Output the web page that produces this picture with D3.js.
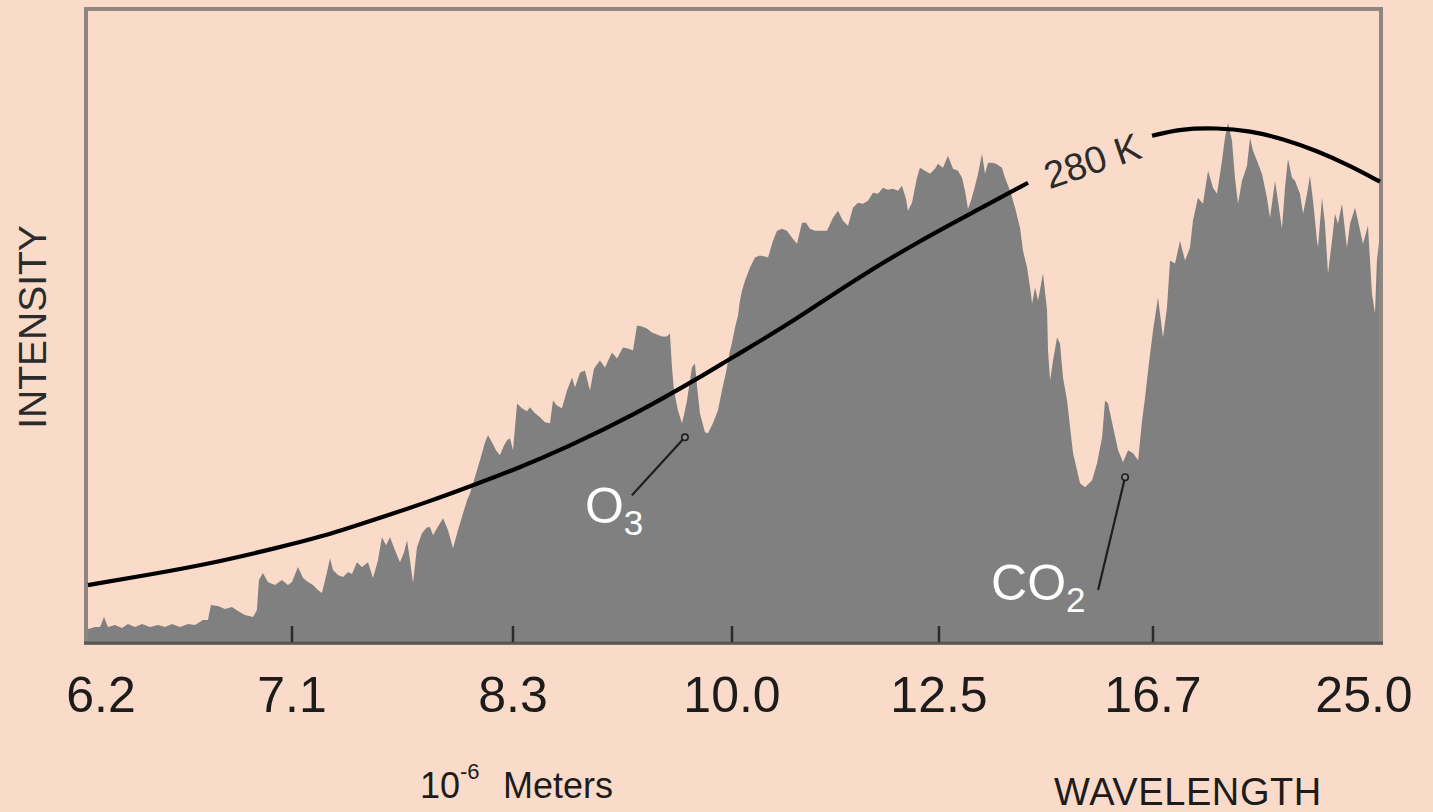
<!DOCTYPE html>
<html>
<head>
<meta charset="utf-8">
<script src="https://cdn.jsdelivr.net/npm/d3@7"></script>
<style>
  html, body { margin: 0; padding: 0; background: #FADBC9; }
  svg { display: block; }
  text { font-family: "Liberation Sans", Arial, Helvetica, sans-serif; }
</style>
</head>
<body>
<svg id="chart" width="1433" height="812"></svg>
<script>
// Earth's outgoing infrared spectrum against a 280 K blackbody curve.
// x: wavenumber in cm^-1 (axis labelled in wavelength, 10^-6 m); y: intensity, arbitrary units.

const wavenumberTicks = [1600, 1400, 1200, 1000, 800, 600, 400];
const wavelengthLabels = ["6.2", "7.1", "8.3", "10.0", "12.5", "16.7", "25.0"];

const spectrumWavenumber = [
  1600.0, 1593.1, 1588.2, 1584.3, 1580.4, 1573.5, 1566.7, 1560.8, 1553.9, 1547.1,
  1539.2, 1531.4, 1524.5, 1517.7, 1509.8, 1502.0, 1495.1, 1487.3, 1482.4, 1479.5,
  1472.6, 1465.7, 1458.9, 1453.0, 1446.1, 1438.3, 1434.4, 1432.4, 1428.5, 1423.6,
  1416.7, 1409.9, 1404.0, 1400.0,
  1394.6, 1390.0, 1385.5, 1381.0, 1376.5, 1372.9, 1368.3, 1365.6, 1362.9, 1358.4,
  1353.8, 1349.3, 1345.7, 1341.2, 1336.7, 1331.2, 1326.7, 1322.2, 1318.6, 1314.9,
  1311.3, 1306.8, 1302.3, 1298.6, 1295.9, 1293.2, 1290.5, 1286.9, 1282.4, 1277.8,
  1275.1, 1272.4, 1268.8, 1263.3, 1258.8, 1254.3, 1249.8, 1245.2, 1241.6, 1238.9,
  1235.3, 1232.6, 1229.9, 1228.1, 1225.3, 1222.6, 1219.0, 1215.4, 1211.8, 1208.1,
  1205.4, 1202.7, 1200.0,
  1196.3, 1191.8, 1187.2, 1184.5, 1179.9, 1175.3, 1170.8, 1166.2, 1163.5, 1159.8,
  1155.3, 1150.7, 1146.1, 1143.4, 1138.8, 1134.3, 1129.7, 1126.0, 1120.6, 1116.0,
  1109.6, 1105.0, 1099.6, 1095.0, 1090.4, 1086.8, 1082.2, 1077.7, 1073.1, 1068.5,
  1064.0, 1059.4, 1056.7, 1054.8, 1053.0, 1049.4, 1045.7, 1043.9, 1041.1, 1036.6,
  1033.8, 1032.0, 1029.3, 1024.7, 1022.0, 1017.4, 1012.8, 1009.2, 1005.5, 1001.8,
  1000.0,
  997.1, 994.2, 992.3, 990.3, 987.4, 982.6, 977.8, 973.0, 968.1, 965.2,
  960.4, 956.5, 951.7, 946.9, 942.0, 937.2, 932.4, 928.5, 924.7, 919.8,
  915.0, 908.2, 902.4, 897.6, 892.8, 887.9, 883.1, 878.3, 873.5, 868.6,
  863.8, 859.0, 854.1, 849.3, 844.5, 839.6, 835.8, 831.9, 830.0, 826.1,
  821.3, 818.4, 813.6, 808.7, 803.9, 801.0,
  796.3, 791.6, 786.9, 782.2, 778.5, 775.7, 772.9, 770.1, 766.3, 763.5,
  759.8, 757.0, 754.2, 750.4, 746.7, 741.1, 738.3, 733.6, 728.9, 724.3,
  721.5, 717.7, 714.9, 713.0, 710.2, 707.4, 702.8, 699.0, 698.1, 696.2,
  693.4, 689.7, 686.9, 684.1, 680.3, 677.5, 674.7, 671.0, 668.2, 663.5,
  656.9, 652.3, 647.6, 644.8, 642.0, 637.3, 632.6, 628.0, 623.3, 618.6,
  613.9, 610.2, 607.4, 604.6, 600.0,
  595.6, 591.2, 587.7, 585.0, 580.6, 576.2, 571.8, 567.4, 564.8, 560.4,
  556.0, 551.5, 547.1, 543.6, 539.2, 536.6, 533.9, 530.4, 527.8, 525.1,
  521.6, 517.2, 514.5, 511.9, 508.4, 504.0, 499.6, 496.9, 492.5, 489.9,
  486.4, 483.7, 481.1, 477.5, 474.9, 470.5, 467.8, 464.3, 461.7, 459.0,
  455.5, 454.6, 451.1, 448.5, 445.8, 442.3, 439.7, 437.0, 433.5, 429.1,
  426.4, 422.0, 419.4, 415.0, 410.6, 407.1, 404.4, 402.7, 400.0
];

const spectrumIntensity = [
  2.8, 3.2, 3.2, 5.2, 3.2, 3.6, 3.0, 3.8, 3.2, 3.8,
  3.2, 3.6, 3.2, 3.8, 3.2, 3.8, 3.6, 4.6, 4.6, 7.6,
  7.4, 6.8, 7.2, 6.4, 5.6, 5.2, 6.6, 12.6, 14.0, 12.2,
  11.6, 12.6, 11.6, 12.2,
  15.2, 13.0, 12.2, 11.6, 10.6, 10.0, 14.2, 17.0, 14.6, 13.6,
  13.2, 14.2, 13.8, 16.2, 15.2, 16.2, 13.0, 16.6, 21.2, 19.6,
  21.2, 18.6, 16.2, 18.2, 20.6, 16.6, 12.0, 19.2, 22.0, 23.2,
  23.2, 21.6, 23.0, 25.0, 22.6, 19.0, 22.6, 26.0, 28.6, 30.0,
  32.6, 34.6, 36.6, 38.0, 40.2, 41.6, 40.2, 38.6, 37.6, 39.6,
  40.6, 41.0, 38.6,
  48.0, 47.0, 46.4, 47.2, 46.0, 45.2, 44.2, 44.0, 48.6, 47.6,
  47.0, 50.6, 53.2, 51.2, 54.2, 54.6, 50.6, 55.0, 56.6, 55.2,
  58.2, 57.0, 59.2, 59.0, 58.6, 63.6, 63.4, 63.0, 62.2, 61.8,
  61.4, 61.4, 62.0, 55.2, 50.6, 46.6, 44.0, 45.6, 48.6, 55.2,
  56.0, 51.6, 46.0, 42.2, 42.0, 44.0, 46.6, 50.6, 54.2, 58.6,
  60.2,
  63.2, 65.6, 68.6, 70.6, 72.6, 75.2, 77.2, 77.6, 77.4, 77.2,
  80.6, 82.6, 83.0, 82.6, 81.2, 80.0, 84.2, 84.2, 83.0, 82.6,
  82.6, 82.6, 85.2, 86.6, 84.6, 83.6, 87.2, 88.2, 88.0, 88.6,
  90.2, 90.0, 91.2, 90.8, 91.0, 90.6, 91.6, 89.0, 86.6, 88.2,
  93.2, 95.2, 94.6, 94.0, 95.0, 96.0,
  95.2, 97.6, 95.0, 94.6, 93.2, 90.6, 87.0, 88.6, 91.6, 94.0,
  98.0, 94.0, 96.2, 96.2, 96.0, 95.2, 93.2, 90.6, 87.2, 83.2,
  78.6, 75.2, 71.2, 68.0, 71.2, 68.6, 74.0, 66.6, 58.6, 52.6,
  56.6, 61.2, 60.0, 53.2, 48.6, 43.2, 38.0, 34.6, 32.0, 31.2,
  32.6, 36.0, 41.2, 48.6, 48.0, 43.2, 38.6, 36.2, 38.6, 38.0,
  36.6, 44.6, 49.2, 54.6, 62.6,
  69.2, 61.2, 67.2, 76.6, 76.0, 80.6, 76.6, 79.2, 84.6, 89.2,
  88.0, 94.6, 91.2, 90.0, 96.6, 101.2, 104.2, 100.6, 93.2, 88.0,
  92.6, 95.6, 101.2, 98.6, 96.6, 94.0, 89.2, 85.2, 92.6, 88.6,
  83.0, 91.2, 97.0, 93.2, 92.6, 90.0, 86.0, 90.0, 93.6, 88.6,
  80.6, 79.2, 89.2, 84.0, 74.0, 80.6, 86.0, 84.0, 88.0, 79.2,
  84.0, 87.2, 84.6, 80.0, 83.6, 70.0, 66.0, 76.6, 82.0
];

// 280 K blackbody curve; the null breaks the line where its label sits
const blackbodyWavenumber = [
  1600.0, 1542.2, 1477.5, 1411.8, 1374.7, 1332.1, 1272.4, 1236.2, 1200.0, 1150.7,
  1090.4, 1029.3, 1000.0, 946.9, 883.1, 818.4, 761.7, 716.8, 658.0,
  600.9, 576.2, 543.6, 514.5, 485.5, 455.5, 426.4, 400.0
];
const blackbodyIntensity = [
  11.6, 13.6, 16.0, 19.2, 21.2, 24.2, 28.6, 31.6, 34.6, 39.2,
  45.6, 53.2, 57.2, 63.6, 72.6, 80.6, 87.0, 92.2, null,
  101.6, 103.0, 103.2, 102.6, 101.0, 98.6, 95.6, 92.4
];
const blackbodyLabel = "280 K";

// Absorption band annotations
const bandFormula = ["O", "CO"];
const bandSubscript = ["3", "2"];
const bandTipWavenumber = [1043.0, 626.1];
const bandTipIntensity = [41.2, 33.2];
const bandTailWavenumber = [1091.4, 651.3];
const bandTailIntensity = [29.6, 10.6];

// ---------------------------------------------------------------------------
const svg = d3.select("#chart");
const W = 1433, H = 812;
const plot = { left: 88, right: 1380, top: 9, bottom: 643 };

svg.append("rect").attr("width", W).attr("height", H).attr("fill", "#FADBC9");

// The printed wavelength axis is evenly spaced in wavenumber, calibrated per tick
const x = d3.scaleLinear()
  .domain(wavenumberTicks)
  .range([plot.left, 292, 513, 732, 939, 1153, plot.right]);

const y = d3.scaleLinear().domain([0, 127]).range([plot.bottom, plot.top]);

const spectrum = spectrumWavenumber.map((wn, i) => ({ wn, v: spectrumIntensity[i] }));
const blackbody = blackbodyWavenumber.map((wn, i) => ({ wn, v: blackbodyIntensity[i] }));

// Spectrum fill
const area = d3.area()
  .x(d => x(d.wn))
  .y0(y(0))
  .y1(d => y(d.v))
  .curve(d3.curveLinear);

svg.append("path")
  .datum(spectrum)
  .attr("d", area)
  .attr("fill", "#808080");

// Frame
svg.append("rect")
  .attr("x", plot.left - 2)
  .attr("y", plot.top)
  .attr("width", plot.right - plot.left + 3)
  .attr("height", plot.bottom - plot.top)
  .attr("fill", "none")
  .attr("stroke", "#8f8680")
  .attr("stroke-width", 4);

svg.append("line")
  .attr("x1", plot.left - 4).attr("x2", plot.right + 3)
  .attr("y1", plot.bottom).attr("y2", plot.bottom)
  .attr("stroke", "#5a5552").attr("stroke-width", 3);

// Ticks (inside, interior only) and wavelength labels
const interior = wavenumberTicks.slice(1, -1);
svg.selectAll("line.tick")
  .data(interior)
  .join("line")
  .attr("class", "tick")
  .attr("x1", d => x(d)).attr("x2", d => x(d))
  .attr("y1", plot.bottom - 17).attr("y2", plot.bottom - 1)
  .attr("stroke", "#2a2a2a").attr("stroke-width", 2.5);

const lastTick = wavenumberTicks.length - 1;
svg.selectAll("text.tickLabel")
  .data(wavenumberTicks)
  .join("text")
  .attr("class", "tickLabel")
  .attr("x", d => x(d))
  .attr("dx", (d, i) => i === 0 ? 13 : (i === lastTick ? -16 : 0))
  .attr("y", 712)
  .attr("text-anchor", "middle")
  .attr("font-size", 50)
  .attr("fill", "#1c1c1c")
  .text((d, i) => wavelengthLabels[i]);

// Blackbody curve
const line = d3.line()
  .defined(d => d.v !== null)
  .x(d => x(d.wn))
  .y(d => y(d.v))
  .curve(d3.curveBasis);

svg.append("path")
  .datum(blackbody)
  .attr("d", line)
  .attr("fill", "none")
  .attr("stroke", "#000")
  .attr("stroke-width", 4.2)
  .attr("stroke-linecap", "butt");

// Label centred in the break of the curve, along its slope
const gapIndex = blackbodyIntensity.indexOf(null);
const before = blackbody[gapIndex - 1], after = blackbody[gapIndex + 1];
const bx0 = x(before.wn), by0 = y(before.v), bx1 = x(after.wn), by1 = y(after.v);
const angle = Math.atan2(by1 - by0, bx1 - bx0) * 180 / Math.PI;
svg.append("text")
  .attr("transform", `translate(${(bx0 + bx1) / 2 + 2},${(by0 + by1) / 2 + 1}) rotate(${angle + 2})`)
  .attr("text-anchor", "middle")
  .attr("dy", "0.36em")
  .attr("font-size", 38)
  .attr("fill", "#2b2b2b")
  .text(blackbodyLabel);

// Band annotations: leader line with a small ring at the tip, white formula
const labelOffset = [[-47, 28], [-107, 10]];
bandFormula.forEach((f, i) => {
  const tx = x(bandTipWavenumber[i]), ty = y(bandTipIntensity[i]);
  const sx = x(bandTailWavenumber[i]), sy = y(bandTailIntensity[i]);
  svg.append("line")
    .attr("x1", sx).attr("y1", sy).attr("x2", tx).attr("y2", ty)
    .attr("stroke", "#1e1e1e").attr("stroke-width", 2.2);
  svg.append("circle")
    .attr("cx", tx).attr("cy", ty).attr("r", 3.2)
    .attr("fill", "#8a8a8a").attr("stroke", "#1e1e1e").attr("stroke-width", 1.6);
  const t = svg.append("text")
    .attr("x", sx + labelOffset[i][0])
    .attr("y", sy + labelOffset[i][1])
    .attr("fill", "#ffffff")
    .attr("font-size", 50);
  t.append("tspan").text(f);
  t.append("tspan").attr("dy", 12).attr("font-size", 35).text(bandSubscript[i]);
});

// Axis titles
svg.append("text")
  .attr("transform", "translate(46,327) rotate(-90)")
  .attr("text-anchor", "middle")
  .attr("font-size", 39)
  .attr("fill", "#2b2b2b")
  .text("INTENSITY");

const unit = svg.append("text")
  .attr("x", 420).attr("y", 798)
  .attr("font-size", 36)
  .attr("fill", "#1c1c1c");
unit.append("tspan").text("10");
unit.append("tspan").attr("dy", -19).attr("font-size", 22).text("-6");
unit.append("tspan").attr("x", 503).attr("dy", 19).text("Meters");

svg.append("text")
  .attr("x", 1188).attr("y", 805)
  .attr("text-anchor", "middle")
  .attr("font-size", 38)
  .attr("letter-spacing", 0.6)
  .attr("fill", "#1c1c1c")
  .text("WAVELENGTH");
</script>
</body>
</html>
